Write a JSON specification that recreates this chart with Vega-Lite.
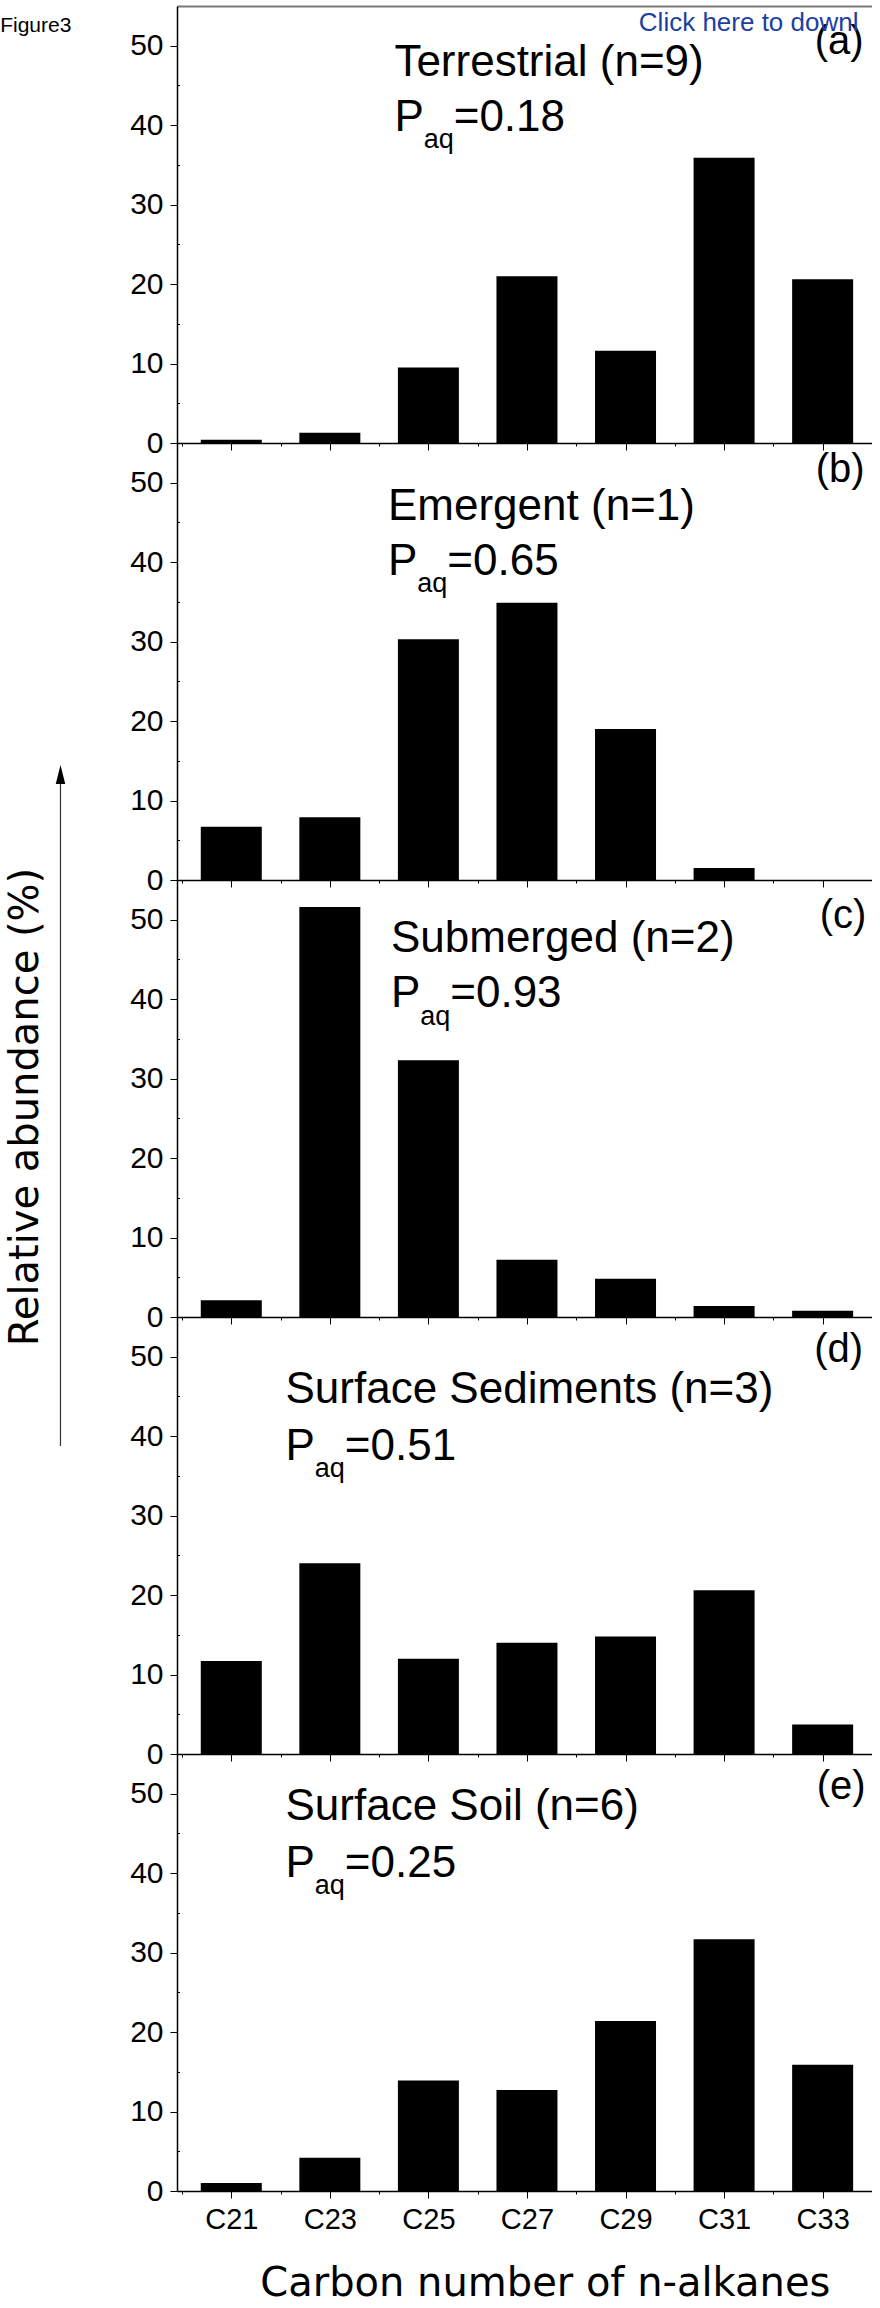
{
  "$schema": "https://vega.github.io/schema/vega-lite/v6.json",
  "background": "white",
  "padding": {"left": 0, "top": 6, "right": 0, "bottom": 0},
  "bounds": "flush",
  "spacing": 0,
  "datasets": {
    "alkanes": [
      {"panel": "a", "carbon": 21, "abundance": 0.4},
      {"panel": "a", "carbon": 23, "abundance": 1.3},
      {"panel": "a", "carbon": 25, "abundance": 9.5},
      {"panel": "a", "carbon": 27, "abundance": 21.0},
      {"panel": "a", "carbon": 29, "abundance": 11.6},
      {"panel": "a", "carbon": 31, "abundance": 35.9},
      {"panel": "a", "carbon": 33, "abundance": 20.6},
      {"panel": "b", "carbon": 21, "abundance": 6.7},
      {"panel": "b", "carbon": 23, "abundance": 7.9},
      {"panel": "b", "carbon": 25, "abundance": 30.3},
      {"panel": "b", "carbon": 27, "abundance": 34.9},
      {"panel": "b", "carbon": 29, "abundance": 19.0},
      {"panel": "b", "carbon": 31, "abundance": 1.5},
      {"panel": "b", "carbon": 33, "abundance": 0},
      {"panel": "c", "carbon": 21, "abundance": 2.1},
      {"panel": "c", "carbon": 23, "abundance": 51.6},
      {"panel": "c", "carbon": 25, "abundance": 32.3},
      {"panel": "c", "carbon": 27, "abundance": 7.2},
      {"panel": "c", "carbon": 29, "abundance": 4.8},
      {"panel": "c", "carbon": 31, "abundance": 1.4},
      {"panel": "c", "carbon": 33, "abundance": 0.8},
      {"panel": "d", "carbon": 21, "abundance": 11.7},
      {"panel": "d", "carbon": 23, "abundance": 24.0},
      {"panel": "d", "carbon": 25, "abundance": 12.0},
      {"panel": "d", "carbon": 27, "abundance": 14.0},
      {"panel": "d", "carbon": 29, "abundance": 14.8},
      {"panel": "d", "carbon": 31, "abundance": 20.6},
      {"panel": "d", "carbon": 33, "abundance": 3.7},
      {"panel": "e", "carbon": 21, "abundance": 1.0},
      {"panel": "e", "carbon": 23, "abundance": 4.2},
      {"panel": "e", "carbon": 25, "abundance": 13.9},
      {"panel": "e", "carbon": 27, "abundance": 12.7},
      {"panel": "e", "carbon": 29, "abundance": 21.4},
      {"panel": "e", "carbon": 31, "abundance": 31.7},
      {"panel": "e", "carbon": 33, "abundance": 15.9}
    ]
  },
  "vconcat": [
    {
      "width": 695, "height": 437,
      "layer": [
        {"data": {"name": "alkanes"}, "transform": [{"filter": "datum.panel === 'a'"}],
         "mark": {"type": "bar", "width": 61, "color": "black", "orient": "vertical"},
         "encoding": {
           "x": {"field": "carbon", "type": "quantitative", "scale": {"domain": [20, 33.9], "nice": false, "zero": false},
                 "axis": {"values": [21, 23, 25, 27, 29, 31, 33], "labels": false, "tickSize": 7, "title": null, "orient": "bottom"}},
           "y": {"field": "abundance", "type": "quantitative", "scale": {"domain": [0, 55], "nice": false, "zero": false},
                 "axis": {"values": [0, 10, 20, 30, 40, 50], "tickSize": 7, "labelPadding": 7, "title": null, "orient": "left"}}}},
        {"data": {"values": [{}]}, "mark": {"type": "text", "text": "Terrestrial (n=9)"},
         "encoding": {
           "x": {"datum": 24.31, "type": "quantitative", "axis": {"values": [20, 22, 24, 26, 28, 30, 32], "labels": false, "domain": false, "tickSize": 3, "title": null, "orient": "bottom"}},
           "y": {"datum": 46.23, "type": "quantitative", "axis": {"values": [5, 15, 25, 35, 45], "labels": false, "domain": false, "tickSize": -2.5, "title": null, "orient": "left"}}}},
        {"data": {"values": [{}]}, "mark": {"type": "text", "text": "P"},
         "encoding": {"x": {"datum": 24.31, "type": "quantitative", "axis": null}, "y": {"datum": 39.31, "type": "quantitative", "axis": null}}},
        {"data": {"values": [{}]}, "mark": {"type": "text", "text": "aq", "fontSize": 27, "dx": 29.3, "dy": 17.5},
         "encoding": {"x": {"datum": 24.31, "type": "quantitative", "axis": null}, "y": {"datum": 39.31, "type": "quantitative", "axis": null}}},
        {"data": {"values": [{}]}, "mark": {"type": "text", "text": "=0.18", "dx": 59.3},
         "encoding": {"x": {"datum": 24.31, "type": "quantitative", "axis": null}, "y": {"datum": 39.31, "type": "quantitative", "axis": null}}},
        {"data": {"values": [{}]}, "mark": {"type": "text", "text": "(a)", "fontSize": 40},
         "encoding": {"x": {"datum": 32.84, "type": "quantitative", "axis": null}, "y": {"datum": 48.96, "type": "quantitative", "axis": null}}},
        {"data": {"values": [{}]}, "mark": {"type": "text", "text": "Click here to download Figure", "fontSize": 26, "color": "#1c3fa1", "limit": 231, "ellipsis": "\u200b"},
         "encoding": {
           "x": {"datum": 29.27, "type": "quantitative", "axis": {"orient": "top", "labels": false, "ticks": false, "domainColor": "#7a7a7a", "domainWidth": 2, "title": null}},
           "y": {"datum": 51.9, "type": "quantitative", "axis": null}}},
        {"data": {"values": [{}]}, "mark": {"type": "text", "text": "Figure3", "fontSize": 21, "align": "left"},
         "encoding": {"x": {"datum": 16.31, "type": "quantitative", "axis": null}, "y": {"datum": 51.77, "type": "quantitative", "axis": null}}}
      ],
      "resolve": {"axis": {"x": "independent", "y": "independent"}}
    },
    {
      "width": 695, "height": 437,
      "layer": [
        {"data": {"name": "alkanes"}, "transform": [{"filter": "datum.panel === 'b'"}],
         "mark": {"type": "bar", "width": 61, "color": "black", "orient": "vertical"},
         "encoding": {
           "x": {"field": "carbon", "type": "quantitative", "scale": {"domain": [20, 33.9], "nice": false, "zero": false},
                 "axis": {"values": [21, 23, 25, 27, 29, 31, 33], "labels": false, "tickSize": 7, "title": null, "orient": "bottom"}},
           "y": {"field": "abundance", "type": "quantitative", "scale": {"domain": [0, 55], "nice": false, "zero": false},
                 "axis": {"values": [0, 10, 20, 30, 40, 50], "tickSize": 7, "labelPadding": 7, "title": null, "orient": "left"}}}},
        {"data": {"values": [{}]}, "mark": {"type": "text", "text": "Emergent (n=1)"},
         "encoding": {
           "x": {"datum": 24.18, "type": "quantitative", "axis": {"values": [20, 22, 24, 26, 28, 30, 32], "labels": false, "domain": false, "tickSize": 3, "title": null, "orient": "bottom"}},
           "y": {"datum": 45.35, "type": "quantitative", "axis": {"values": [5, 15, 25, 35, 45], "labels": false, "domain": false, "tickSize": -2.5, "title": null, "orient": "left"}}}},
        {"data": {"values": [{}]}, "mark": {"type": "text", "text": "P"},
         "encoding": {"x": {"datum": 24.18, "type": "quantitative", "axis": null}, "y": {"datum": 38.43, "type": "quantitative", "axis": null}}},
        {"data": {"values": [{}]}, "mark": {"type": "text", "text": "aq", "fontSize": 27, "dx": 29.3, "dy": 17.5},
         "encoding": {"x": {"datum": 24.18, "type": "quantitative", "axis": null}, "y": {"datum": 38.43, "type": "quantitative", "axis": null}}},
        {"data": {"values": [{}]}, "mark": {"type": "text", "text": "=0.65", "dx": 59.3},
         "encoding": {"x": {"datum": 24.18, "type": "quantitative", "axis": null}, "y": {"datum": 38.43, "type": "quantitative", "axis": null}}},
        {"data": {"values": [{}]}, "mark": {"type": "text", "text": "(b)", "fontSize": 40},
         "encoding": {"x": {"datum": 32.86, "type": "quantitative", "axis": null}, "y": {"datum": 50.06, "type": "quantitative", "axis": null}}}
      ],
      "resolve": {"axis": {"x": "independent", "y": "independent"}}
    },
    {
      "width": 695, "height": 437,
      "layer": [
        {"data": {"name": "alkanes"}, "transform": [{"filter": "datum.panel === 'c'"}],
         "mark": {"type": "bar", "width": 61, "color": "black", "orient": "vertical"},
         "encoding": {
           "x": {"field": "carbon", "type": "quantitative", "scale": {"domain": [20, 33.9], "nice": false, "zero": false},
                 "axis": {"values": [21, 23, 25, 27, 29, 31, 33], "labels": false, "tickSize": 7, "title": null, "orient": "bottom"}},
           "y": {"field": "abundance", "type": "quantitative", "scale": {"domain": [0, 55], "nice": false, "zero": false},
                 "axis": {"values": [0, 10, 20, 30, 40, 50], "tickSize": 7, "labelPadding": 7, "orient": "left",
                          "title": "Relative abundance (%)", "titleX": -140, "titleY": 226.5, "titleAngle": 270, "titleAlign": "center", "titleBaseline": "alphabetic"}}}},
        {"data": {"values": [{}]}, "mark": {"type": "text", "text": "Submerged (n=2)"},
         "encoding": {
           "x": {"datum": 24.24, "type": "quantitative", "axis": {"values": [20, 22, 24, 26, 28, 30, 32], "labels": false, "domain": false, "tickSize": 3, "title": null, "orient": "bottom"}},
           "y": {"datum": 45.98, "type": "quantitative", "axis": {"values": [5, 15, 25, 35, 45], "labels": false, "domain": false, "tickSize": -2.5, "title": null, "orient": "left"}}}},
        {"data": {"values": [{}]}, "mark": {"type": "text", "text": "P"},
         "encoding": {"x": {"datum": 24.24, "type": "quantitative", "axis": null}, "y": {"datum": 38.98, "type": "quantitative", "axis": null}}},
        {"data": {"values": [{}]}, "mark": {"type": "text", "text": "aq", "fontSize": 27, "dx": 29.3, "dy": 17.5},
         "encoding": {"x": {"datum": 24.24, "type": "quantitative", "axis": null}, "y": {"datum": 38.98, "type": "quantitative", "axis": null}}},
        {"data": {"values": [{}]}, "mark": {"type": "text", "text": "=0.93", "dx": 59.3},
         "encoding": {"x": {"datum": 24.24, "type": "quantitative", "axis": null}, "y": {"datum": 38.98, "type": "quantitative", "axis": null}}},
        {"data": {"values": [{}]}, "mark": {"type": "text", "text": "(c)", "fontSize": 40},
         "encoding": {"x": {"datum": 32.94, "type": "quantitative", "axis": null}, "y": {"datum": 48.92, "type": "quantitative", "axis": null}}},
        {"data": {"values": [{}]}, "mark": {"type": "rule", "color": "#333333", "strokeWidth": 1.2},
         "encoding": {"x": {"datum": 17.534, "type": "quantitative", "axis": null}, "y": {"datum": -16.24, "type": "quantitative", "axis": null}, "y2": {"datum": 67.7}}},
        {"data": {"values": [{}]}, "mark": {"type": "point", "shape": "M0,-1L0.5,1L-0.5,1Z", "filled": true, "size": 361, "color": "black", "opacity": 1, "strokeWidth": 0},
         "encoding": {"x": {"datum": 17.534, "type": "quantitative", "axis": null}, "y": {"datum": 68.28, "type": "quantitative", "axis": null}}}
      ],
      "resolve": {"axis": {"x": "independent", "y": "independent"}}
    },
    {
      "width": 695, "height": 437,
      "layer": [
        {"data": {"name": "alkanes"}, "transform": [{"filter": "datum.panel === 'd'"}],
         "mark": {"type": "bar", "width": 61, "color": "black", "orient": "vertical"},
         "encoding": {
           "x": {"field": "carbon", "type": "quantitative", "scale": {"domain": [20, 33.9], "nice": false, "zero": false},
                 "axis": {"values": [21, 23, 25, 27, 29, 31, 33], "labels": false, "tickSize": 7, "title": null, "orient": "bottom"}},
           "y": {"field": "abundance", "type": "quantitative", "scale": {"domain": [0, 55], "nice": false, "zero": false},
                 "axis": {"values": [0, 10, 20, 30, 40, 50], "tickSize": 7, "labelPadding": 7, "title": null, "orient": "left"}}}},
        {"data": {"values": [{}]}, "mark": {"type": "text", "text": "Surface Sediments (n=3)"},
         "encoding": {
           "x": {"datum": 22.1, "type": "quantitative", "axis": {"values": [20, 22, 24, 26, 28, 30, 32], "labels": false, "domain": false, "tickSize": 3, "title": null, "orient": "bottom"}},
           "y": {"datum": 44.14, "type": "quantitative", "axis": {"values": [5, 15, 25, 35, 45], "labels": false, "domain": false, "tickSize": -2.5, "title": null, "orient": "left"}}}},
        {"data": {"values": [{}]}, "mark": {"type": "text", "text": "P"},
         "encoding": {"x": {"datum": 22.1, "type": "quantitative", "axis": null}, "y": {"datum": 37.04, "type": "quantitative", "axis": null}}},
        {"data": {"values": [{}]}, "mark": {"type": "text", "text": "aq", "fontSize": 27, "dx": 29.3, "dy": 17.5},
         "encoding": {"x": {"datum": 22.1, "type": "quantitative", "axis": null}, "y": {"datum": 37.04, "type": "quantitative", "axis": null}}},
        {"data": {"values": [{}]}, "mark": {"type": "text", "text": "=0.51", "dx": 59.3},
         "encoding": {"x": {"datum": 22.1, "type": "quantitative", "axis": null}, "y": {"datum": 37.04, "type": "quantitative", "axis": null}}},
        {"data": {"values": [{}]}, "mark": {"type": "text", "text": "(d)", "fontSize": 40},
         "encoding": {"x": {"datum": 32.83, "type": "quantitative", "axis": null}, "y": {"datum": 49.3, "type": "quantitative", "axis": null}}}
      ],
      "resolve": {"axis": {"x": "independent", "y": "independent"}}
    },
    {
      "width": 695, "height": 437,
      "layer": [
        {"data": {"name": "alkanes"}, "transform": [{"filter": "datum.panel === 'e'"}],
         "mark": {"type": "bar", "width": 61, "color": "black", "orient": "vertical"},
         "encoding": {
           "x": {"field": "carbon", "type": "quantitative", "scale": {"domain": [20, 33.9], "nice": false, "zero": false},
                 "axis": {"values": [21, 23, 25, 27, 29, 31, 33], "labelExpr": "'C' + datum.value", "labelFontSize": 29, "labelPadding": 7.5, "labelFlush": false, "labelOverlap": false, "tickSize": 7, "orient": "bottom",
                          "title": "Carbon number of n-alkanes", "titleX": 367.8, "titleY": 104.7, "titleAlign": "center", "titleBaseline": "alphabetic"}},
           "y": {"field": "abundance", "type": "quantitative", "scale": {"domain": [0, 55], "nice": false, "zero": false},
                 "axis": {"values": [0, 10, 20, 30, 40, 50], "tickSize": 7, "labelPadding": 7, "title": null, "orient": "left"}}}},
        {"data": {"values": [{}]}, "mark": {"type": "text", "text": "Surface Soil (n=6)"},
         "encoding": {
           "x": {"datum": 22.1, "type": "quantitative", "axis": {"values": [20, 22, 24, 26, 28, 30, 32], "labels": false, "domain": false, "tickSize": 3, "title": null, "orient": "bottom"}},
           "y": {"datum": 46.67, "type": "quantitative", "axis": {"values": [5, 15, 25, 35, 45], "labels": false, "domain": false, "tickSize": -2.5, "title": null, "orient": "left"}}}},
        {"data": {"values": [{}]}, "mark": {"type": "text", "text": "P"},
         "encoding": {"x": {"datum": 22.1, "type": "quantitative", "axis": null}, "y": {"datum": 39.52, "type": "quantitative", "axis": null}}},
        {"data": {"values": [{}]}, "mark": {"type": "text", "text": "aq", "fontSize": 27, "dx": 29.3, "dy": 17.5},
         "encoding": {"x": {"datum": 22.1, "type": "quantitative", "axis": null}, "y": {"datum": 39.52, "type": "quantitative", "axis": null}}},
        {"data": {"values": [{}]}, "mark": {"type": "text", "text": "=0.25", "dx": 59.3},
         "encoding": {"x": {"datum": 22.1, "type": "quantitative", "axis": null}, "y": {"datum": 39.52, "type": "quantitative", "axis": null}}},
        {"data": {"values": [{}]}, "mark": {"type": "text", "text": "(e)", "fontSize": 40},
         "encoding": {"x": {"datum": 32.88, "type": "quantitative", "axis": null}, "y": {"datum": 49.36, "type": "quantitative", "axis": null}}}
      ],
      "resolve": {"axis": {"x": "independent", "y": "independent"}}
    }
  ],
  "config": {
    "view": {"stroke": null},
    "axis": {
      "grid": false, "zindex": 1,
      "domainColor": "black", "domainWidth": 1.5,
      "tickColor": "black", "tickWidth": 1,
      "labelColor": "black", "labelFont": "Liberation Sans", "labelFontSize": 30, "labelOverlap": false,
      "titleFont": "DejaVu Sans", "titleFontSize": 40, "titleFontWeight": "normal", "titleColor": "black"
    },
    "text": {"font": "Liberation Sans", "fontSize": 44, "align": "left", "baseline": "alphabetic", "color": "black"}
  }
}
